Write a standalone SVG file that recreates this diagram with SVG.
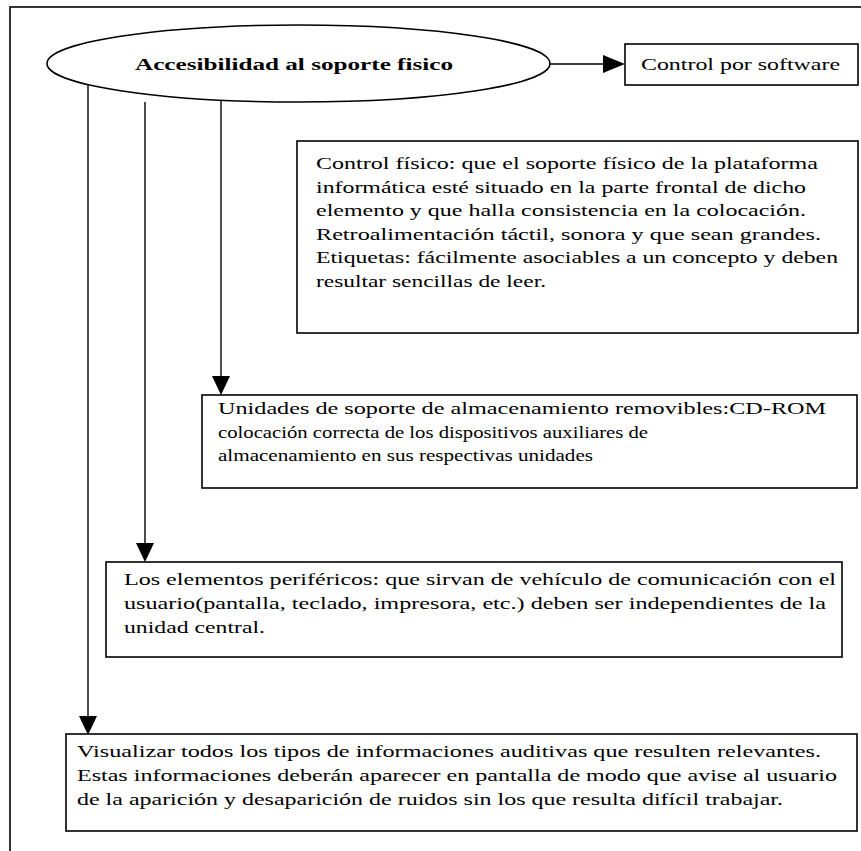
<svg xmlns="http://www.w3.org/2000/svg" width="861" height="851" viewBox="0 0 861 851">
<defs>
<style>
.box{fill:#fff;stroke:#000;stroke-width:1.6}
.ln{stroke:#000;stroke-width:1.4;fill:none}
.t{font-family:"Liberation Serif","Times New Roman",serif;font-size:17px;fill:#000}
.b{font-family:"Liberation Serif","Times New Roman",serif;font-size:17px;font-weight:bold;fill:#000}
</style>
</defs>
<rect width="861" height="851" fill="#fff"/>
<path d="M10,851 V7 H861" fill="none" stroke="#333" stroke-width="2"/>

<g id="connectors">
<line class="ln" x1="550" y1="64" x2="604" y2="64"/>
<path d="M603,55 L625,64 L603,73 Z" fill="#000"/>
<line class="ln" x1="88" y1="85" x2="88" y2="718"/>
<path d="M79,716 L88,735 L97,716 Z" fill="#000"/>
<line class="ln" x1="145" y1="102" x2="145" y2="545"/>
<path d="M136,543 L145,562 L154,543 Z" fill="#000"/>
<line class="ln" x1="221" y1="101" x2="221" y2="378"/>
<path d="M212,376 L221,395 L230,376 Z" fill="#000"/>
</g>

<g id="node-main">
<ellipse class="box" cx="298.5" cy="63.5" rx="251.5" ry="38.5"/>
<text class="b" x="294" y="70" text-anchor="middle" textLength="318" lengthAdjust="spacingAndGlyphs">Accesibilidad al soporte fisico</text>
</g>

<g id="node-software">
<rect class="box" x="625" y="44" width="233" height="41"/>
<text class="t" x="641" y="70" textLength="199" lengthAdjust="spacingAndGlyphs">Control por software</text>
</g>

<g id="node-control-fisico">
<rect class="box" x="297" y="141" width="561" height="192"/>
<text class="t" x="316" y="169" textLength="502" lengthAdjust="spacingAndGlyphs">Control físico: que el soporte físico de la plataforma</text>
<text class="t" x="316" y="193" textLength="490" lengthAdjust="spacingAndGlyphs">informática esté situado en la parte frontal de dicho</text>
<text class="t" x="316" y="216" textLength="490" lengthAdjust="spacingAndGlyphs">elemento y que halla consistencia en la colocación.</text>
<text class="t" x="316" y="240" textLength="505" lengthAdjust="spacingAndGlyphs">Retroalimentación táctil, sonora y que sean grandes.</text>
<text class="t" x="316" y="263" textLength="522" lengthAdjust="spacingAndGlyphs">Etiquetas: fácilmente asociables a un concepto y deben</text>
<text class="t" x="316" y="287" textLength="230" lengthAdjust="spacingAndGlyphs">resultar sencillas de leer.</text>
</g>

<g id="node-cdrom">
<rect class="box" x="202" y="395" width="655" height="93"/>
<text class="t" x="218" y="414" textLength="608" lengthAdjust="spacingAndGlyphs">Unidades de soporte de almacenamiento removibles:CD-ROM</text>
<text class="t" x="218" y="438" textLength="430" lengthAdjust="spacingAndGlyphs">colocación correcta de los dispositivos auxiliares de</text>
<text class="t" x="218" y="461" textLength="375" lengthAdjust="spacingAndGlyphs">almacenamiento en sus  respectivas unidades</text>
</g>

<g id="node-perifericos">
<rect class="box" x="106" y="562" width="736" height="95"/>
<text class="t" x="124" y="585" textLength="712" lengthAdjust="spacingAndGlyphs">Los elementos periféricos: que sirvan de vehículo de comunicación con el</text>
<text class="t" x="124" y="609" textLength="702" lengthAdjust="spacingAndGlyphs">usuario(pantalla, teclado, impresora, etc.) deben ser independientes de la</text>
<text class="t" x="124" y="633" textLength="141" lengthAdjust="spacingAndGlyphs">unidad central.</text>
</g>

<g id="node-visualizar">
<rect class="box" x="66" y="734" width="791" height="97"/>
<text class="t" x="77" y="757" textLength="744" lengthAdjust="spacingAndGlyphs">Visualizar todos los tipos de informaciones auditivas que resulten relevantes.</text>
<text class="t" x="77" y="781" textLength="760" lengthAdjust="spacingAndGlyphs">Estas informaciones deberán aparecer en pantalla de modo que avise al usuario</text>
<text class="t" x="77" y="805" textLength="706" lengthAdjust="spacingAndGlyphs">de la aparición y desaparición de ruidos sin los que resulta difícil trabajar.</text>
</g>
</svg>
